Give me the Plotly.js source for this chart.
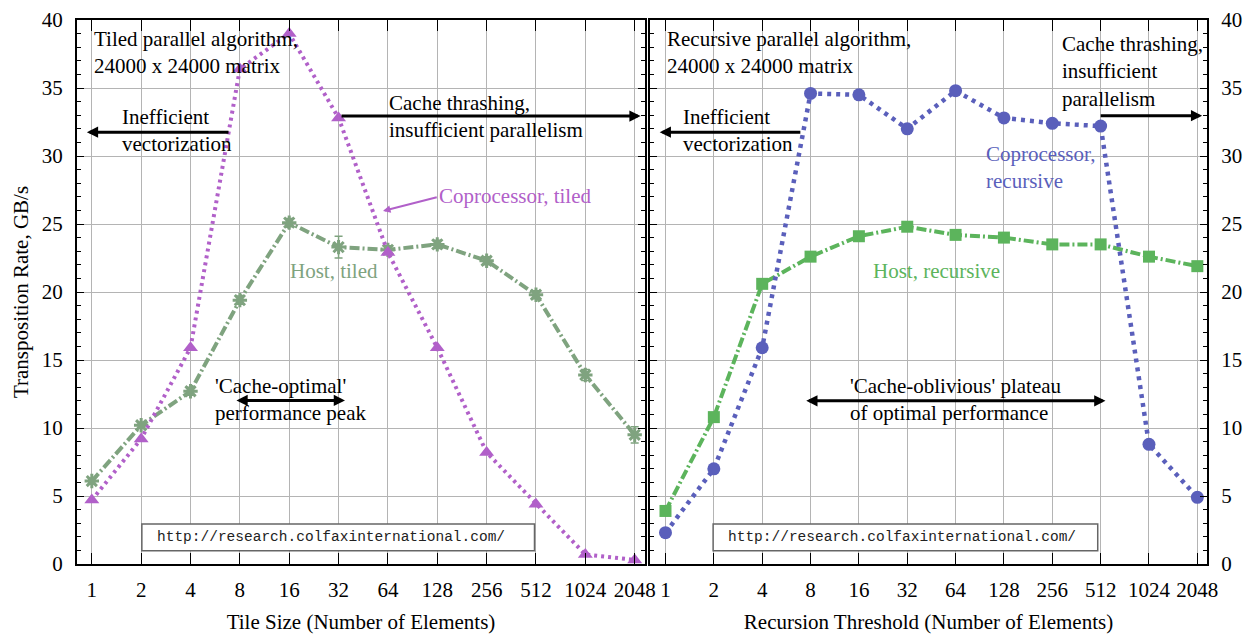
<!DOCTYPE html>
<html>
<head>
<meta charset="utf-8">
<script src="https://cdn.plot.ly/plotly-3.0.1.min.js"></script>
<style>html,body{margin:0;padding:0;background:#fff;}#chart{width:1251px;height:634px;}</style>
</head>
<body>
<div id="chart"></div>
<script>
// ---- data ----
var categories = ['1','2','4','8','16','32','64','128','256','512','1024','2048'];
var coprocessorTiled = [4.7, 9.2, 15.9, 36.4, 39.0, 32.8, 22.9, 15.9, 8.2, 4.4, 0.7, 0.3];
var hostTiled = [6.1, 10.2, 12.7, 19.4, 25.1, 23.3, 23.1, 23.5, 22.3, 19.8, 13.9, 9.5];
var hostTiledErr = [0.2, 0.2, 0.3, 0.3, 0.3, 0.8, 0.3, 0.3, 0.3, 0.3, 0.4, 0.6];
var coprocessorRecursive = [2.3, 7.0, 15.9, 34.6, 34.5, 32.0, 34.8, 32.8, 32.4, 32.2, 8.8, 4.9];
var hostRecursive = [3.9, 10.8, 20.6, 22.6, 24.1, 24.8, 24.2, 24.0, 23.5, 23.5, 22.6, 21.9];
var yTickValues = [0, 5, 10, 15, 20, 25, 30, 35, 40];

// ---- styles ----
var PURPLE = '#b160c9', GREEN_T = '#7fa37f', BLUE = '#5a5fbb', GREEN_R = '#5cb45c';
var SERIF = 'Liberation Serif, Times New Roman, serif';
var MONO = 'Liberation Mono, Courier New, monospace';
var FS = 21;

var traces = [
  {x: categories, y: hostTiled, xaxis: 'x', yaxis: 'y', mode: 'lines+markers', name: 'Host, tiled',
   line: {color: GREEN_T, width: 4, dash: '10px,3px,2px,3px'},
   marker: {symbol: 'asterisk-open', size: 12, color: GREEN_T, line: {color: GREEN_T, width: 3}},
   error_y: {type: 'data', array: hostTiledErr, visible: true, color: GREEN_T, thickness: 1.5, width: 4}},
  {x: categories, y: coprocessorTiled, xaxis: 'x', yaxis: 'y', mode: 'lines+markers', name: 'Coprocessor, tiled',
   line: {color: PURPLE, width: 4, dash: '3px,4px'},
   marker: {symbol: 'triangle-up', size: 13, color: PURPLE}},
  {x: categories, y: hostRecursive, xaxis: 'x2', yaxis: 'y2', mode: 'lines+markers', name: 'Host, recursive',
   line: {color: GREEN_R, width: 4, dash: '10px,3px,2px,3px'},
   marker: {symbol: 'square', size: 12, color: GREEN_R}},
  {x: categories, y: coprocessorRecursive, xaxis: 'x2', yaxis: 'y2', mode: 'lines+markers', name: 'Coprocessor, recursive',
   line: {color: BLUE, width: 4.5, dash: '4px,5px'},
   marker: {symbol: 'circle', size: 13, color: BLUE}}
];

function xAxis(domain, anchor, title, range) {
  return {
    domain: domain, anchor: anchor, type: 'category', range: range,
    tickmode: 'array', tickvals: categories, ticktext: categories,
    showgrid: true, gridcolor: '#b4b4b4', gridwidth: 1,
    ticks: 'inside', ticklen: 11, tickwidth: 1, tickcolor: '#000',
    mirror: 'allticks', showline: true, linewidth: 2, linecolor: '#000',
    zeroline: false, ticklabelstandoff: 6,
    tickfont: {family: SERIF, size: FS, color: '#000'},
    title: {text: title, font: {family: SERIF, size: FS, color: '#000'}, standoff: 14}
  };
}
function yAxis(anchor, side, title) {
  var a = {
    anchor: anchor, side: side, range: [0, 40], tickmode: 'array', tickvals: yTickValues,
    showgrid: true, gridcolor: '#b4b4b4', gridwidth: 1,
    ticks: 'inside', ticklen: 7, tickwidth: 1, tickcolor: '#000',
    minor: {dtick: 1, ticks: 'inside', ticklen: 4, tickwidth: 1, tickcolor: '#000', showgrid: false},
    mirror: 'allticks', showline: true, linewidth: 2, linecolor: '#000',
    zeroline: false, ticklabelstandoff: 8,
    tickfont: {family: SERIF, size: FS, color: '#000'}
  };
  if (title) a.title = {text: title, font: {family: SERIF, size: FS, color: '#000'}, standoff: 7};
  return a;
}

function txt(xr, yr, x, y, text, color, opts) {
  var a = {xref: xr, yref: yr, x: x, y: y, text: text, showarrow: false,
    xanchor: 'left', yanchor: 'middle', align: 'left',
    font: {family: SERIF, size: FS, color: color || '#000'}};
  for (var k in opts || {}) a[k] = opts[k];
  return a;
}
function arrow(xr, yr, x0, y0, x1, y1, color, width, both) {
  return {xref: xr, yref: yr, axref: xr, ayref: yr, ax: x0, ay: y0, x: x1, y: y1, text: '',
    showarrow: true, arrowhead: 2, arrowsize: 0.75, arrowwidth: width, arrowcolor: color,
    arrowside: both ? 'end+start' : 'end', standoff: 0, startstandoff: 0};
}

var URL = 'http://research.colfaxinternational.com/';
var annotations = [
  // left panel
  txt('x', 'y', 0.0, 37.6, 'Tiled parallel algorithm,<br>24000 x 24000 matrix'),
  txt('x', 'y', 0.57, 31.9, 'Inefficient<br>vectorization'),
  arrow('x', 'y', 2.8, 31.75, -0.1, 31.75, '#000', 3),
  txt('x', 'y', 5.98, 32.9, 'Cache thrashing,<br>insufficient parallelism'),
  arrow('x', 'y', 5.03, 32.94, 11.12, 32.94, '#000', 3),
  txt('x', 'y', 7.0, 27.06, 'Coprocessor, tiled', PURPLE),
  arrow('x', 'y', 7.02, 26.99, 5.9, 25.96, PURPLE, 2),
  txt('x', 'y', 3.98, 21.54, 'Host, tiled', GREEN_T),
  txt('x', 'y', 2.45, 12.06, '\'Cache-optimal\'<br>performance peak'),
  arrow('x', 'y', 2.9, 12.03, 5.13, 12.03, '#000', 3, true),
  {xref: 'x', yref: 'y', x: 1.28, y: 1.99, text: URL, showarrow: false, xanchor: 'left', yanchor: 'middle',
   font: {family: MONO, size: 14.5, color: '#222'}},
  // right panel
  txt('x2', 'y2', -0.01, 37.6, 'Recursive parallel algorithm,<br>24000 x 24000 matrix'),
  txt('x2', 'y2', 0.32, 31.9, 'Inefficient<br>vectorization'),
  arrow('x2', 'y2', 2.82, 31.75, -0.12, 31.75, '#000', 3),
  txt('x2', 'y2', 8.16, 36.25, 'Cache thrashing,<br>insufficient<br>parallelism'),
  arrow('x2', 'y2', 8.97, 32.96, 11.1, 32.96, '#000', 3),
  txt('x2', 'y2', 6.58, 29.19, 'Coprocessor,<br>recursive', BLUE),
  txt('x2', 'y2', 4.25, 21.54, 'Host, recursive', GREEN_R),
  txt('x2', 'y2', 3.77, 12.06, '\'Cache-oblivious\' plateau<br>of optimal performance'),
  arrow('x2', 'y2', 2.88, 12.0, 9.1, 12.0, '#000', 3, true),
  {xref: 'x2', yref: 'y2', x: 1.25, y: 1.99, text: URL, showarrow: false, xanchor: 'left', yanchor: 'middle',
   font: {family: MONO, size: 14.5, color: '#222'}}
];

var shapes = [
  {type: 'rect', xref: 'x', yref: 'y', x0: 1.014, x1: 8.97, y0: 0.98, y1: 2.94, layer: 'above',
   fillcolor: '#fff', line: {color: '#666', width: 1.5}},
  {type: 'rect', xref: 'x2', yref: 'y2', x0: 0.985, x1: 8.94, y0: 0.98, y1: 2.94, layer: 'above',
   fillcolor: '#fff', line: {color: '#666', width: 1.5}}
];

var layout = {
  width: 1251, height: 634,
  margin: {l: 77, r: 44, t: 20, b: 70},
  paper_bgcolor: '#fff', plot_bgcolor: '#fff',
  showlegend: false,
  xaxis: xAxis([0, 0.5027], 'y', 'Tile Size (Number of Elements)', [-0.3, 11.21]),
  xaxis2: xAxis([0.5071, 1], 'y2', 'Recursion Threshold (Number of Elements)', [-0.32, 11.2]),
  yaxis: yAxis('x', 'left', 'Transposition Rate, GB/s'),
  yaxis2: yAxis('x2', 'right', null),
  annotations: annotations,
  shapes: shapes
};

Plotly.newPlot('chart', traces, layout, {displayModeBar: false, staticPlot: true});
</script>
</body>
</html>
